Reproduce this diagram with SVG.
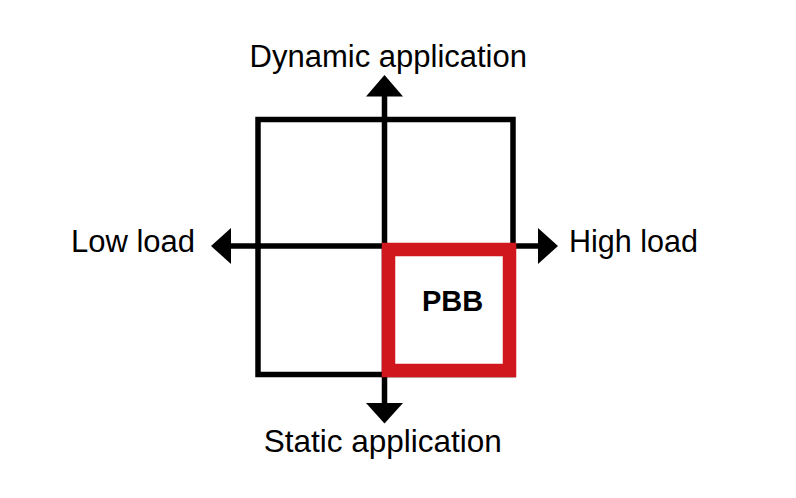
<svg xmlns="http://www.w3.org/2000/svg" width="796" height="498" viewBox="0 0 796 498">
<style>
.lbl{font-family:"Liberation Sans",Arial,Helvetica,sans-serif;font-size:30.5px;fill:#000}
.ax{stroke:#000;stroke-width:5.5;fill:none}
.head{fill:#000}
</style>
<rect width="796" height="498" fill="#fff"/>
<g id="grid">
<rect x="258" y="119.5" width="255" height="255" fill="none" stroke="#000" stroke-width="5.5"/>
</g>
<g id="connectors">
<line class="ax" x1="230" y1="246" x2="540" y2="246"/>
<line class="ax" x1="384.5" y1="96" x2="384.5" y2="404"/>
<polygon class="head" points="211,246 231,228 231,264"/>
<polygon class="head" points="558,246 538,228 538,264"/>
<polygon class="head" points="384.5,75 366,96.5 403,96.5"/>
<polygon class="head" points="384.5,423.5 366,403 403,403"/>
</g>
<g id="pbb">
<rect x="388.5" y="249.5" width="121" height="121" fill="#fff" stroke="#cf171d" stroke-width="13.5"/>
<text x="452.5" y="310.5" text-anchor="middle" style="font-family:'Liberation Sans',Arial,sans-serif;font-size:29px;font-weight:bold">PBB</text>
</g>
<g id="label-dynamic"><text class="lbl" x="388.3" y="66.5" text-anchor="middle" style="font-size:31px">Dynamic application</text></g>
<g id="label-static"><text class="lbl" x="382.8" y="451.5" text-anchor="middle" style="font-size:31.5px">Static application</text></g>
<g id="label-low"><text class="lbl" x="195" y="252.3" text-anchor="end" style="font-size:31px">Low load</text></g>
<g id="label-high"><text class="lbl" x="569" y="252.3">High load</text></g>
</svg>
